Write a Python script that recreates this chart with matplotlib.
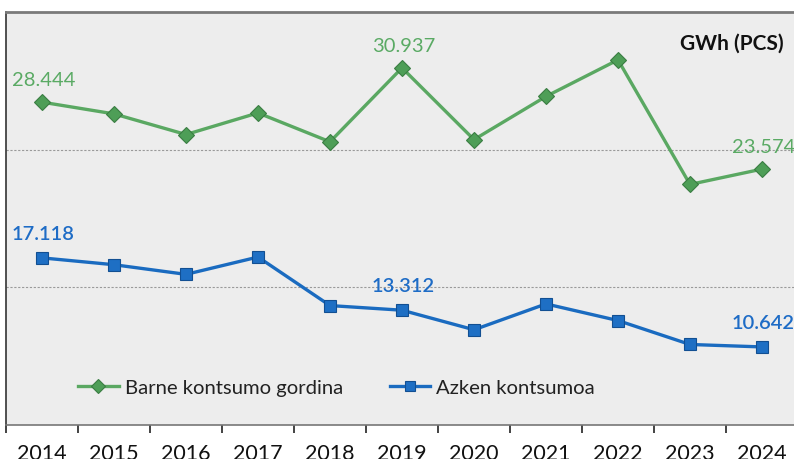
import matplotlib
matplotlib.use("Agg")
import matplotlib.pyplot as plt
from matplotlib.lines import Line2D

plt.rcParams['font.family'] = ['Lato', 'DejaVu Sans']

years = ["2014", "2015", "2016", "2017", "2018", "2019", "2020", "2021", "2022", "2023", "2024"]
barne = [28444, 27590, 26090, 27660, 25560, 30937, 25720, 28860, 31520, 22460, 23574]
azken = [17118, 16620, 15920, 17180, 13650, 13312, 11890, 13770, 12560, 10820, 10642]
barne_labels_idx = [0, 5, 10]
azken_labels_idx = [0, 5, 10]
unit_text = "GWh (PCS)"
series_names = ["Barne kontsumo gordina", "Azken kontsumoa"]

GREEN_LINE = '#5AA862'
GREEN_FACE = '#4E9E57'
GREEN_EDGE = '#3A7D42'
GREEN_TXT = '#5AAA64'
BLUE_LINE = '#1A6BC0'
BLUE_FACE = '#1E6FC4'
BLUE_EDGE = '#124F92'
BLUE_TXT = '#1E6CC6'

W, H = 794, 460
fig = plt.figure(figsize=(W / 100, H / 100), dpi=100)
left_px, right_px, top_px, bot_px = 6, 798, 13, 425.5
ax = fig.add_axes([left_px / W, (H - bot_px) / H, (right_px - left_px) / W, (bot_px - top_px) / H])
ax.set_facecolor('#EDEDED')

x = list(range(len(years)))
ax.plot(x, barne, color=GREEN_LINE, lw=2.4, marker='D', ms=8,
        mfc=GREEN_FACE, mec=GREEN_EDGE, mew=0.8, zorder=3)
ax.plot(x, azken, color=BLUE_LINE, lw=2.4, marker='s', ms=8,
        mfc=BLUE_FACE, mec=BLUE_EDGE, mew=0.8, zorder=3)

def fmt(v):
    return f"{v:,}".replace(",", ".")

for i in barne_labels_idx:
    ax.annotate(fmt(barne[i]), (x[i], barne[i]), xytext=(1, 16), textcoords='offset points',
                ha='center', va='center', fontsize=14.5, color=GREEN_TXT)
for i in azken_labels_idx:
    ax.annotate(fmt(azken[i]), (x[i], azken[i]), xytext=(1, 17.5), textcoords='offset points',
                ha='center', va='center', fontsize=14.5, color=BLUE_TXT, fontweight='semibold')

ax.text(0.982, 0.925, unit_text, transform=ax.transAxes, ha='right', va='center',
        fontsize=15, fontweight='bold', color='#111111')

ax.set_xlim(-0.5, len(years) - 0.5)
ax.set_ylim(5000, 35000)
ax.set_yticks([])
for yv in [15000, 25000]:
    ax.axhline(yv, color='#9A9A9A', lw=0.8, ls=(0, (2, 1.5)), zorder=1)

ax.set_xticks(x)
ax.set_xticklabels(years, fontsize=15.5, color='#111111')
ax.tick_params(axis='x', which='major', length=0, pad=13)
ax.set_xticks([i - 0.5 for i in range(len(years) + 1)], minor=True)
ax.tick_params(axis='x', which='minor', length=6, width=1.2, color='#222222', direction='out')

ax.spines['left'].set_color('#333333')
ax.spines['left'].set_linewidth(1.2)
ax.spines['bottom'].set_color('#777777')
ax.spines['bottom'].set_linewidth(1.2)
ax.spines['top'].set_color('#7A7A7A')
ax.spines['top'].set_linewidth(2)
ax.spines['right'].set_visible(False)

handles = [
    Line2D([], [], color=GREEN_LINE, lw=2.4, marker='D', ms=7.5, mfc=GREEN_FACE, mec=GREEN_EDGE, mew=0.8),
    Line2D([], [], color=BLUE_LINE, lw=2.4, marker='s', ms=7.5, mfc=BLUE_FACE, mec=BLUE_EDGE, mew=0.8),
]
leg = ax.legend(handles, series_names, loc='center left', bbox_to_anchor=(64 / 792, 0.09),
                ncol=2, frameon=False, fontsize=14.6, handlelength=2.0, handletextpad=0.3,
                columnspacing=2.3, borderaxespad=0)
for t in leg.get_texts():
    t.set_color('#222222')

fig.savefig('out.png', dpi=100, facecolor='white')
